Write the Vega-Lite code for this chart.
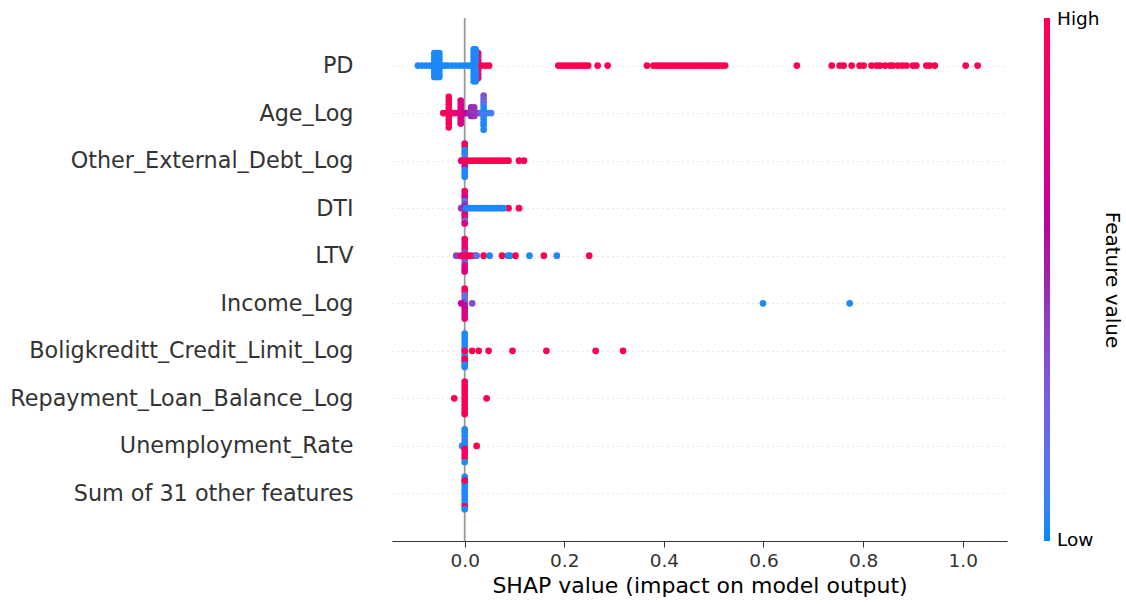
{
"$schema":"https://vega.github.io/schema/vega-lite/v6.json",
"width":615,"height":523,
"autosize":{"type":"none"},
"padding":{"left":392,"top":18,"right":119,"bottom":64},
"background":"#ffffff",
"config":{"font":"DejaVu Sans","view":{"stroke":null}},
"encoding":{"x":{"field":"x","type":"quantitative","scale":{"domain":[-0.146,1.089],"nice":false,"zero":false},
 "axis":{"title":"SHAP value (impact on model output)","values":[0,0.2,0.4,0.6,0.8,1],"format":".1f","grid":false,"domainColor":"#333333","domainWidth":1,"tickColor":"#333333","tickSize":6,"tickWidth":1,"labelFontSize":18.5,"labelColor":"#333333","labelPadding":4,"titleFontSize":22,"titleFontWeight":"normal","titleColor":"#000000","titlePadding":6,"labelFont":"DejaVu Sans","titleFont":"DejaVu Sans"}}},
"layer":[
{"data":{"values":[{"x":0}]},"mark":{"type":"rule","color":"#999999","strokeWidth":1.8},"encoding":{}},
{"data":{"values":[
{"f":"PD","x":-0.094,"o":0,"c":0.02},{"f":"PD","x":-0.086,"o":0,"c":0.02},{"f":"PD","x":-0.078,"o":0,"c":0.02},{"f":"PD","x":-0.07,"o":0,"c":0.02},{"f":"PD","x":-0.064,"o":0,"c":0.02},{"f":"PD","x":-0.046,"o":0,"c":0.02},{"f":"PD","x":-0.04,"o":0,"c":0.02},{"f":"PD","x":-0.034,"o":0,"c":0.02},{"f":"PD","x":-0.026,"o":0,"c":0.02},{"f":"PD","x":-0.018,"o":0,"c":0.02},{"f":"PD","x":-0.01,"o":0,"c":0.02},{"f":"PD","x":-0.002,"o":0,"c":0.02},{"f":"PD","x":0.006,"o":0,"c":0.02},{"f":"PD","x":0.012,"o":0,"c":0.02},
{"f":"PD","x":-0.061,"o":-0.26,"c":0.02},{"f":"PD","x":-0.061,"o":-0.19,"c":0.02},{"f":"PD","x":-0.061,"o":-0.13,"c":0.02},{"f":"PD","x":-0.061,"o":-0.06,"c":0.02},{"f":"PD","x":-0.061,"o":0,"c":0.02},{"f":"PD","x":-0.061,"o":0.06,"c":0.02},{"f":"PD","x":-0.061,"o":0.13,"c":0.02},{"f":"PD","x":-0.061,"o":0.19,"c":0.02},{"f":"PD","x":-0.061,"o":0.24,"c":0.02},
{"f":"PD","x":-0.056,"o":-0.26,"c":0.02},{"f":"PD","x":-0.056,"o":-0.19,"c":0.02},{"f":"PD","x":-0.056,"o":-0.13,"c":0.02},{"f":"PD","x":-0.056,"o":-0.06,"c":0.02},{"f":"PD","x":-0.056,"o":0,"c":0.02},{"f":"PD","x":-0.056,"o":0.06,"c":0.02},{"f":"PD","x":-0.056,"o":0.13,"c":0.02},{"f":"PD","x":-0.056,"o":0.19,"c":0.02},{"f":"PD","x":-0.056,"o":0.24,"c":0.02},
{"f":"PD","x":-0.051,"o":-0.26,"c":0.02},{"f":"PD","x":-0.051,"o":-0.19,"c":0.02},{"f":"PD","x":-0.051,"o":-0.13,"c":0.02},{"f":"PD","x":-0.051,"o":-0.06,"c":0.02},{"f":"PD","x":-0.051,"o":0,"c":0.02},{"f":"PD","x":-0.051,"o":0.06,"c":0.02},{"f":"PD","x":-0.051,"o":0.13,"c":0.02},{"f":"PD","x":-0.051,"o":0.19,"c":0.02},{"f":"PD","x":-0.051,"o":0.24,"c":0.02},
{"f":"PD","x":0.027,"o":-0.26,"c":0.9},{"f":"PD","x":0.027,"o":-0.19,"c":1},{"f":"PD","x":0.027,"o":-0.11,"c":0.8},{"f":"PD","x":0.027,"o":-0.04,"c":1},{"f":"PD","x":0.027,"o":0.04,"c":0.9},{"f":"PD","x":0.027,"o":0.11,"c":1},{"f":"PD","x":0.027,"o":0.19,"c":0.85},{"f":"PD","x":0.027,"o":0.26,"c":0.9},
{"f":"PD","x":0.018,"o":-0.34,"c":0.02},{"f":"PD","x":0.018,"o":-0.26,"c":0.02},{"f":"PD","x":0.018,"o":-0.19,"c":0.02},{"f":"PD","x":0.018,"o":-0.11,"c":0.02},{"f":"PD","x":0.018,"o":-0.04,"c":0.02},{"f":"PD","x":0.018,"o":0.04,"c":0.02},{"f":"PD","x":0.018,"o":0.11,"c":0.02},{"f":"PD","x":0.018,"o":0.19,"c":0.02},{"f":"PD","x":0.018,"o":0.26,"c":0.02},{"f":"PD","x":0.018,"o":0.33,"c":0.02},
{"f":"PD","x":0.022,"o":-0.34,"c":0.02},{"f":"PD","x":0.022,"o":-0.26,"c":0.02},{"f":"PD","x":0.022,"o":-0.19,"c":0.02},{"f":"PD","x":0.022,"o":-0.11,"c":0.02},{"f":"PD","x":0.022,"o":-0.04,"c":0.02},{"f":"PD","x":0.022,"o":0.04,"c":0.02},{"f":"PD","x":0.022,"o":0.11,"c":0.02},{"f":"PD","x":0.022,"o":0.19,"c":0.02},{"f":"PD","x":0.022,"o":0.26,"c":0.02},{"f":"PD","x":0.022,"o":0.33,"c":0.02},
{"f":"PD","x":0.034,"o":0,"c":1},{"f":"PD","x":0.042,"o":0,"c":1},{"f":"PD","x":0.049,"o":0,"c":1},
{"f":"PD","x":0.188,"o":0,"c":1},{"f":"PD","x":0.194,"o":0,"c":1},{"f":"PD","x":0.2,"o":0,"c":1},{"f":"PD","x":0.206,"o":0,"c":1},{"f":"PD","x":0.212,"o":0,"c":1},{"f":"PD","x":0.218,"o":0,"c":1},{"f":"PD","x":0.224,"o":0,"c":1},{"f":"PD","x":0.23,"o":0,"c":1},{"f":"PD","x":0.236,"o":0,"c":1},{"f":"PD","x":0.242,"o":0,"c":1},{"f":"PD","x":0.248,"o":0,"c":1},{"f":"PD","x":0.267,"o":0,"c":1},{"f":"PD","x":0.287,"o":0,"c":1},
{"f":"PD","x":0.366,"o":0,"c":1},{"f":"PD","x":0.379,"o":0,"c":1},{"f":"PD","x":0.385,"o":0,"c":1},{"f":"PD","x":0.391,"o":0,"c":1},{"f":"PD","x":0.397,"o":0,"c":1},{"f":"PD","x":0.403,"o":0,"c":1},{"f":"PD","x":0.409,"o":0,"c":1},{"f":"PD","x":0.415,"o":0,"c":1},{"f":"PD","x":0.421,"o":0,"c":1},{"f":"PD","x":0.427,"o":0,"c":1},{"f":"PD","x":0.433,"o":0,"c":1},{"f":"PD","x":0.439,"o":0,"c":1},{"f":"PD","x":0.445,"o":0,"c":1},{"f":"PD","x":0.451,"o":0,"c":1},{"f":"PD","x":0.457,"o":0,"c":1},{"f":"PD","x":0.463,"o":0,"c":1},{"f":"PD","x":0.469,"o":0,"c":1},{"f":"PD","x":0.475,"o":0,"c":1},{"f":"PD","x":0.481,"o":0,"c":1},{"f":"PD","x":0.487,"o":0,"c":1},{"f":"PD","x":0.493,"o":0,"c":1},{"f":"PD","x":0.499,"o":0,"c":1},{"f":"PD","x":0.505,"o":0,"c":1},{"f":"PD","x":0.511,"o":0,"c":1},{"f":"PD","x":0.517,"o":0,"c":1},{"f":"PD","x":0.523,"o":0,"c":1},
{"f":"PD","x":0.667,"o":0,"c":1},{"f":"PD","x":0.737,"o":0,"c":1},{"f":"PD","x":0.753,"o":0,"c":1},{"f":"PD","x":0.761,"o":0,"c":1},{"f":"PD","x":0.777,"o":0,"c":1},{"f":"PD","x":0.793,"o":0,"c":1},{"f":"PD","x":0.801,"o":0,"c":1},{"f":"PD","x":0.817,"o":0,"c":1},{"f":"PD","x":0.827,"o":0,"c":1},{"f":"PD","x":0.834,"o":0,"c":1},{"f":"PD","x":0.844,"o":0,"c":1},{"f":"PD","x":0.854,"o":0,"c":1},{"f":"PD","x":0.86,"o":0,"c":1},{"f":"PD","x":0.87,"o":0,"c":1},{"f":"PD","x":0.879,"o":0,"c":1},{"f":"PD","x":0.887,"o":0,"c":1},{"f":"PD","x":0.9,"o":0,"c":1},{"f":"PD","x":0.907,"o":0,"c":1},{"f":"PD","x":0.927,"o":0,"c":1},{"f":"PD","x":0.934,"o":0,"c":1},{"f":"PD","x":0.944,"o":0,"c":1},{"f":"PD","x":1.006,"o":0,"c":1},{"f":"PD","x":1.03,"o":0,"c":1},
{"f":"Age_Log","x":-0.043,"o":0,"c":1},{"f":"Age_Log","x":-0.037,"o":0,"c":1},{"f":"Age_Log","x":-0.025,"o":0,"c":0.9},{"f":"Age_Log","x":-0.018,"o":0,"c":0.85},{"f":"Age_Log","x":-0.003,"o":0,"c":0.7},{"f":"Age_Log","x":0.003,"o":0,"c":0.6},{"f":"Age_Log","x":0.009,"o":0,"c":0.5},{"f":"Age_Log","x":0.024,"o":0,"c":0.4},{"f":"Age_Log","x":0.03,"o":0,"c":0.3},{"f":"Age_Log","x":0.045,"o":0,"c":0.1},{"f":"Age_Log","x":0.053,"o":0,"c":0.1},
{"f":"Age_Log","x":-0.032,"o":-0.34,"c":1},{"f":"Age_Log","x":-0.032,"o":-0.26,"c":0.9},{"f":"Age_Log","x":-0.032,"o":-0.18,"c":1},{"f":"Age_Log","x":-0.032,"o":-0.1,"c":0.95},{"f":"Age_Log","x":-0.032,"o":-0.02,"c":0.85},{"f":"Age_Log","x":-0.032,"o":0.06,"c":1},{"f":"Age_Log","x":-0.032,"o":0.14,"c":0.9},{"f":"Age_Log","x":-0.032,"o":0.22,"c":1},{"f":"Age_Log","x":-0.032,"o":0.3,"c":0.95},
{"f":"Age_Log","x":-0.008,"o":-0.26,"c":0.72},{"f":"Age_Log","x":-0.008,"o":-0.19,"c":0.75},{"f":"Age_Log","x":-0.008,"o":-0.12,"c":0.7},{"f":"Age_Log","x":-0.008,"o":-0.05,"c":0.72},{"f":"Age_Log","x":-0.008,"o":0.02,"c":0.75},{"f":"Age_Log","x":-0.008,"o":0.09,"c":0.7},{"f":"Age_Log","x":-0.008,"o":0.16,"c":0.72},{"f":"Age_Log","x":-0.008,"o":0.22,"c":0.75},
{"f":"Age_Log","x":0.013,"o":-0.12,"c":0.48},{"f":"Age_Log","x":0.013,"o":-0.06,"c":0.5},{"f":"Age_Log","x":0.013,"o":0,"c":0.45},{"f":"Age_Log","x":0.013,"o":0.06,"c":0.5},{"f":"Age_Log","x":0.019,"o":-0.12,"c":0.45},{"f":"Age_Log","x":0.019,"o":-0.06,"c":0.45},{"f":"Age_Log","x":0.019,"o":0,"c":0.42},{"f":"Age_Log","x":0.019,"o":0.06,"c":0.45},
{"f":"Age_Log","x":0.038,"o":-0.37,"c":0.35},{"f":"Age_Log","x":0.038,"o":-0.3,"c":0.3},{"f":"Age_Log","x":0.038,"o":-0.23,"c":0.25},{"f":"Age_Log","x":0.038,"o":-0.16,"c":0.1},{"f":"Age_Log","x":0.038,"o":-0.09,"c":0.02},{"f":"Age_Log","x":0.038,"o":-0.02,"c":0.02},{"f":"Age_Log","x":0.038,"o":0.05,"c":0.1},{"f":"Age_Log","x":0.038,"o":0.12,"c":0.02},{"f":"Age_Log","x":0.038,"o":0.19,"c":0.02},{"f":"Age_Log","x":0.038,"o":0.26,"c":0.02},{"f":"Age_Log","x":0.038,"o":0.35,"c":0.02},
{"f":"Other_External_Debt_Log","x":0,"o":-0.36,"c":0.85},{"f":"Other_External_Debt_Log","x":0,"o":-0.29,"c":1},{"f":"Other_External_Debt_Log","x":0,"o":-0.22,"c":0.02},{"f":"Other_External_Debt_Log","x":0,"o":-0.15,"c":0.02},{"f":"Other_External_Debt_Log","x":0,"o":-0.08,"c":0.1},{"f":"Other_External_Debt_Log","x":0,"o":0.06,"c":0.8},{"f":"Other_External_Debt_Log","x":0,"o":0.13,"c":0.75},{"f":"Other_External_Debt_Log","x":0,"o":0.2,"c":0.02},{"f":"Other_External_Debt_Log","x":0,"o":0.27,"c":0.02},{"f":"Other_External_Debt_Log","x":0,"o":0.34,"c":0.02},
{"f":"Other_External_Debt_Log","x":-0.007,"o":0,"c":0.8},{"f":"Other_External_Debt_Log","x":0,"o":0,"c":1},{"f":"Other_External_Debt_Log","x":0.007,"o":0,"c":1},{"f":"Other_External_Debt_Log","x":0.014,"o":0,"c":1},{"f":"Other_External_Debt_Log","x":0.021,"o":0,"c":1},{"f":"Other_External_Debt_Log","x":0.028,"o":0,"c":1},{"f":"Other_External_Debt_Log","x":0.035,"o":0,"c":1},{"f":"Other_External_Debt_Log","x":0.042,"o":0,"c":1},{"f":"Other_External_Debt_Log","x":0.049,"o":0,"c":1},{"f":"Other_External_Debt_Log","x":0.056,"o":0,"c":1},{"f":"Other_External_Debt_Log","x":0.063,"o":0,"c":1},{"f":"Other_External_Debt_Log","x":0.07,"o":0,"c":1},{"f":"Other_External_Debt_Log","x":0.077,"o":0,"c":1},{"f":"Other_External_Debt_Log","x":0.084,"o":0,"c":1},{"f":"Other_External_Debt_Log","x":0.088,"o":0,"c":1},{"f":"Other_External_Debt_Log","x":0.109,"o":0,"c":1},{"f":"Other_External_Debt_Log","x":0.119,"o":0,"c":1},
{"f":"DTI","x":0,"o":-0.36,"c":1},{"f":"DTI","x":0,"o":-0.29,"c":0.85},{"f":"DTI","x":0,"o":-0.22,"c":0.7},{"f":"DTI","x":0,"o":-0.15,"c":0.1},{"f":"DTI","x":0,"o":-0.08,"c":0.45},{"f":"DTI","x":0,"o":-0.01,"c":0.5},{"f":"DTI","x":0,"o":0.06,"c":0.4},{"f":"DTI","x":0,"o":0.13,"c":0.75},{"f":"DTI","x":0,"o":0.2,"c":0.85},{"f":"DTI","x":0,"o":0.27,"c":0.1},{"f":"DTI","x":0,"o":0.32,"c":0.8},
{"f":"DTI","x":-0.007,"o":0,"c":0.45},{"f":"DTI","x":0.088,"o":0,"c":1},{"f":"DTI","x":0.109,"o":0,"c":1},
{"f":"DTI","x":0.003,"o":0,"c":0.02},{"f":"DTI","x":0.01,"o":0,"c":0.02},{"f":"DTI","x":0.017,"o":0,"c":0.02},{"f":"DTI","x":0.024,"o":0,"c":0.02},{"f":"DTI","x":0.031,"o":0,"c":0.02},{"f":"DTI","x":0.038,"o":0,"c":0.02},{"f":"DTI","x":0.045,"o":0,"c":0.02},{"f":"DTI","x":0.052,"o":0,"c":0.02},{"f":"DTI","x":0.059,"o":0,"c":0.02},{"f":"DTI","x":0.066,"o":0,"c":0.02},{"f":"DTI","x":0.073,"o":0,"c":0.02},{"f":"DTI","x":0.078,"o":0,"c":0.02},
{"f":"LTV","x":0,"o":-0.35,"c":1},{"f":"LTV","x":0,"o":-0.28,"c":0.85},{"f":"LTV","x":0,"o":-0.21,"c":0.8},{"f":"LTV","x":0,"o":-0.14,"c":0.9},{"f":"LTV","x":0,"o":-0.07,"c":0.4},{"f":"LTV","x":0,"o":0.07,"c":0.75},{"f":"LTV","x":0,"o":0.14,"c":0.3},{"f":"LTV","x":0,"o":0.21,"c":0.85},{"f":"LTV","x":0,"o":0.28,"c":0.8},{"f":"LTV","x":0,"o":0.33,"c":0.75},
{"f":"LTV","x":-0.017,"o":0,"c":0.4},{"f":"LTV","x":-0.008,"o":0,"c":0.8},{"f":"LTV","x":0,"o":0,"c":1},{"f":"LTV","x":0.006,"o":0,"c":1},{"f":"LTV","x":0.012,"o":0,"c":0.9},{"f":"LTV","x":0.02,"o":0,"c":1},{"f":"LTV","x":0.024,"o":0,"c":0.15},{"f":"LTV","x":0.038,"o":0,"c":1},{"f":"LTV","x":0.05,"o":0,"c":0.02},{"f":"LTV","x":0.075,"o":0,"c":1},{"f":"LTV","x":0.087,"o":0,"c":0.02},{"f":"LTV","x":0.091,"o":0,"c":0.02},{"f":"LTV","x":0.102,"o":0,"c":1},{"f":"LTV","x":0.13,"o":0,"c":0.02},{"f":"LTV","x":0.159,"o":0,"c":1},{"f":"LTV","x":0.185,"o":0,"c":0.02},{"f":"LTV","x":0.25,"o":0,"c":1},
{"f":"Income_Log","x":0,"o":-0.31,"c":0.9},{"f":"Income_Log","x":0,"o":-0.24,"c":1},{"f":"Income_Log","x":0,"o":-0.17,"c":0.2},{"f":"Income_Log","x":0,"o":-0.1,"c":0.15},{"f":"Income_Log","x":0,"o":-0.03,"c":0.3},{"f":"Income_Log","x":0,"o":0.04,"c":0.5},{"f":"Income_Log","x":0,"o":0.11,"c":0.7},{"f":"Income_Log","x":0,"o":0.18,"c":0.75},{"f":"Income_Log","x":0,"o":0.25,"c":0.7},{"f":"Income_Log","x":0,"o":0.32,"c":0.8},
{"f":"Income_Log","x":-0.007,"o":0,"c":0.65},{"f":"Income_Log","x":0.015,"o":0,"c":0.35},{"f":"Income_Log","x":0.599,"o":0,"c":0.02},{"f":"Income_Log","x":0.773,"o":0,"c":0.02},
{"f":"Boligkreditt_Credit_Limit_Log","x":0,"o":-0.36,"c":0.02},{"f":"Boligkreditt_Credit_Limit_Log","x":0,"o":-0.29,"c":0.02},{"f":"Boligkreditt_Credit_Limit_Log","x":0,"o":-0.22,"c":0.02},{"f":"Boligkreditt_Credit_Limit_Log","x":0,"o":-0.15,"c":0.02},{"f":"Boligkreditt_Credit_Limit_Log","x":0,"o":-0.08,"c":0.02},{"f":"Boligkreditt_Credit_Limit_Log","x":0,"o":-0.01,"c":0.02},{"f":"Boligkreditt_Credit_Limit_Log","x":0,"o":0.06,"c":0.02},{"f":"Boligkreditt_Credit_Limit_Log","x":0,"o":0.13,"c":0.02},
{"f":"Boligkreditt_Credit_Limit_Log","x":0,"o":0,"c":1},{"f":"Boligkreditt_Credit_Limit_Log","x":0,"o":0.17,"c":1},{"f":"Boligkreditt_Credit_Limit_Log","x":0,"o":0.22,"c":0.9},
{"f":"Boligkreditt_Credit_Limit_Log","x":0,"o":0.29,"c":0.02},{"f":"Boligkreditt_Credit_Limit_Log","x":0,"o":0.34,"c":0.02},
{"f":"Boligkreditt_Credit_Limit_Log","x":0.015,"o":0,"c":1},{"f":"Boligkreditt_Credit_Limit_Log","x":0.028,"o":0,"c":1},{"f":"Boligkreditt_Credit_Limit_Log","x":0.048,"o":0,"c":1},{"f":"Boligkreditt_Credit_Limit_Log","x":0.096,"o":0,"c":1},{"f":"Boligkreditt_Credit_Limit_Log","x":0.164,"o":0,"c":1},{"f":"Boligkreditt_Credit_Limit_Log","x":0.263,"o":0,"c":1},{"f":"Boligkreditt_Credit_Limit_Log","x":0.318,"o":0,"c":1},
{"f":"Repayment_Loan_Balance_Log","x":0,"o":-0.35,"c":1},{"f":"Repayment_Loan_Balance_Log","x":0,"o":-0.28,"c":1},{"f":"Repayment_Loan_Balance_Log","x":0,"o":-0.21,"c":0.97},{"f":"Repayment_Loan_Balance_Log","x":0,"o":-0.14,"c":1},{"f":"Repayment_Loan_Balance_Log","x":0,"o":-0.07,"c":1},{"f":"Repayment_Loan_Balance_Log","x":0,"o":0,"c":0.97},{"f":"Repayment_Loan_Balance_Log","x":0,"o":0.07,"c":1},{"f":"Repayment_Loan_Balance_Log","x":0,"o":0.14,"c":1},{"f":"Repayment_Loan_Balance_Log","x":0,"o":0.21,"c":0.97},{"f":"Repayment_Loan_Balance_Log","x":0,"o":0.28,"c":1},{"f":"Repayment_Loan_Balance_Log","x":0,"o":0.33,"c":1},
{"f":"Repayment_Loan_Balance_Log","x":-0.021,"o":0,"c":1},{"f":"Repayment_Loan_Balance_Log","x":0.044,"o":0,"c":1},
{"f":"Unemployment_Rate","x":0,"o":-0.35,"c":0.02},{"f":"Unemployment_Rate","x":0,"o":-0.28,"c":0.02},{"f":"Unemployment_Rate","x":0,"o":-0.21,"c":0.02},{"f":"Unemployment_Rate","x":0,"o":-0.14,"c":0.1},{"f":"Unemployment_Rate","x":0,"o":-0.07,"c":0.02},{"f":"Unemployment_Rate","x":-0.005,"o":0,"c":0.02},{"f":"Unemployment_Rate","x":0,"o":0,"c":0.02},
{"f":"Unemployment_Rate","x":0,"o":0.06,"c":1},{"f":"Unemployment_Rate","x":0,"o":0.12,"c":0.9},{"f":"Unemployment_Rate","x":0,"o":0.19,"c":0.85},{"f":"Unemployment_Rate","x":0,"o":0.26,"c":1},{"f":"Unemployment_Rate","x":0,"o":0.34,"c":0.02},{"f":"Unemployment_Rate","x":0.024,"o":0,"c":1},
{"f":"Sum of 31 other features","x":0,"o":-0.35,"c":0.02},{"f":"Sum of 31 other features","x":0,"o":-0.28,"c":0.02},{"f":"Sum of 31 other features","x":0,"o":-0.21,"c":0.02},{"f":"Sum of 31 other features","x":0,"o":-0.14,"c":0.02},{"f":"Sum of 31 other features","x":0,"o":-0.07,"c":0.02},{"f":"Sum of 31 other features","x":0,"o":0,"c":0.02},{"f":"Sum of 31 other features","x":0,"o":0.07,"c":0.02},{"f":"Sum of 31 other features","x":0,"o":0.14,"c":0.02},{"f":"Sum of 31 other features","x":0,"o":0.21,"c":0.02},
{"f":"Sum of 31 other features","x":0,"o":-0.27,"c":1},{"f":"Sum of 31 other features","x":0,"o":0.27,"c":1},{"f":"Sum of 31 other features","x":0,"o":0.33,"c":0.02}
]},
"mark":{"type":"circle","size":45,"opacity":1},
"encoding":{
 "y":{"field":"f","type":"nominal","sort":null,"scale":{"type":"point","domain":["PD","Age_Log","Other_External_Debt_Log","DTI","LTV","Income_Log","Boligkreditt_Credit_Limit_Log","Repayment_Loan_Balance_Log","Unemployment_Rate","Sum of 31 other features"],"padding":1},
  "axis":{"title":null,"domain":false,"ticks":false,"labelFontSize":22.3,"labelColor":"#333333","labelPadding":39,"labelLimit":500,"grid":true,"gridColor":"#cccccc","gridDash":[1,4],"gridWidth":0.85,"labelFont":"DejaVu Sans"}},
 "yOffset":{"field":"o","type":"quantitative","scale":{"domain":[-1,1],"range":[-47.55,47.55]}},
 "color":{"field":"c","type":"quantitative","scale":{"domain":[0,0.5,1],"range":["#008bfb","#9b24ad","#ff0051"],"interpolate":"hcl"},
  "legend":{"title":"Feature value","orient":"right","offset":37,"direction":"vertical","gradientLength":523,"gradientThickness":6,"gradientStrokeWidth":0,"values":[0.001,0.999],"labelExpr":"datum.value > 0.5 ? 'High' : 'Low'","labelFontSize":18.5,"labelColor":"#000000","labelOffset":7,"labelOverlap":false,"titleOrient":"right","titleFontSize":20,"titleFontWeight":"normal","titleColor":"#000000","titleAnchor":"middle","titlePadding":2,"padding":0,"labelFont":"DejaVu Sans","titleFont":"DejaVu Sans",
   "encode":{"title":{"angle":{"value":-90}}}}}
}}
]
}
